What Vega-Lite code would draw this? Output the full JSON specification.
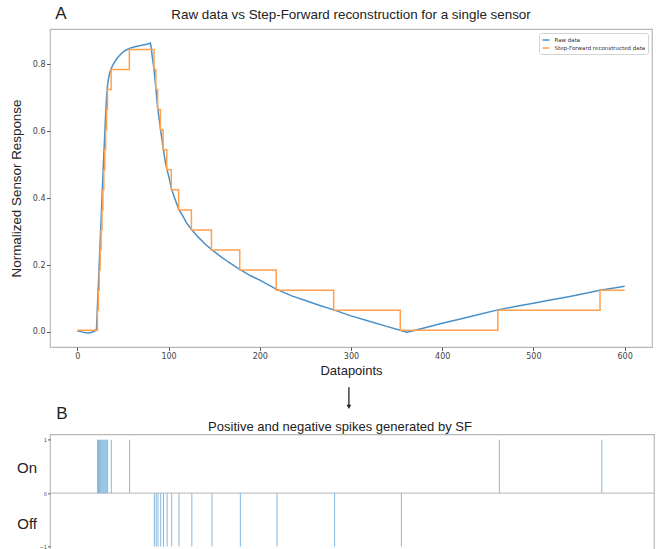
{
  "$schema": "https://vega.github.io/schema/vega-lite/v6.json",
  "background": "white",
  "padding": {"left": 8, "top": 4, "right": 5, "bottom": 0},
  "bounds": "flush",
  "spacing": 87.4,
  "config": {
    "view": {"stroke": "#b8b8b8", "strokeWidth": 1.2},
    "font": "Liberation Sans",
    "title": {"font": "Liberation Sans", "fontWeight": "normal", "color": "#222222"},
    "axis": {"grid": false, "domain": false, "tickColor": "#555555", "labelColor": "#444444", "labelFont": "DejaVu Sans", "titleFont": "Liberation Sans", "titleFontWeight": "normal", "titleColor": "#222222"},
    "legend": {"orient": "top-right", "offset": 4, "padding": 2.5, "strokeColor": "#d4d4d4", "fillColor": "white", "cornerRadius": 2, "symbolType": "stroke", "symbolStrokeWidth": 1.5, "symbolSize": 49, "labelFont": "DejaVu Sans", "labelFontSize": 5.5, "labelColor": "#333333", "rowPadding": 0, "labelOffset": 4}
  },
  "resolve": {"scale": {"x": "independent", "y": "independent", "color": "independent"}, "legend": {"color": "independent"}},
  "datasets": {
    "raw": [
      {"t": 0, "v": 0.003}, {"t": 4, "v": 0.001}, {"t": 8, "v": -0.002}, {"t": 12, "v": -0.003}, {"t": 16, "v": -0.001}, {"t": 20, "v": 0.004},
      {"t": 21, "v": 0.01}, {"t": 22, "v": 0.075}, {"t": 23, "v": 0.14}, {"t": 24, "v": 0.205}, {"t": 25, "v": 0.27}, {"t": 26, "v": 0.335},
      {"t": 27, "v": 0.4}, {"t": 28, "v": 0.465}, {"t": 29, "v": 0.53}, {"t": 30, "v": 0.59}, {"t": 31, "v": 0.65}, {"t": 32, "v": 0.7},
      {"t": 33, "v": 0.735}, {"t": 34, "v": 0.755}, {"t": 35, "v": 0.77}, {"t": 37, "v": 0.787}, {"t": 40, "v": 0.804}, {"t": 44, "v": 0.82},
      {"t": 48, "v": 0.832}, {"t": 52, "v": 0.841}, {"t": 57, "v": 0.848}, {"t": 62, "v": 0.852}, {"t": 67, "v": 0.855}, {"t": 72, "v": 0.858},
      {"t": 77, "v": 0.861}, {"t": 80, "v": 0.864}, {"t": 81, "v": 0.85}, {"t": 82, "v": 0.825}, {"t": 84, "v": 0.787}, {"t": 86, "v": 0.73},
      {"t": 88, "v": 0.672}, {"t": 90, "v": 0.63}, {"t": 91, "v": 0.61}, {"t": 92, "v": 0.59}, {"t": 94, "v": 0.552}, {"t": 96, "v": 0.515},
      {"t": 98, "v": 0.488}, {"t": 100, "v": 0.468}, {"t": 103, "v": 0.43}, {"t": 106, "v": 0.405}, {"t": 111, "v": 0.368}, {"t": 116, "v": 0.345},
      {"t": 120, "v": 0.325}, {"t": 125, "v": 0.307}, {"t": 132, "v": 0.285}, {"t": 140, "v": 0.263}, {"t": 147, "v": 0.247}, {"t": 155, "v": 0.23},
      {"t": 165, "v": 0.21}, {"t": 178, "v": 0.187}, {"t": 190, "v": 0.168}, {"t": 200, "v": 0.155}, {"t": 210, "v": 0.14}, {"t": 218, "v": 0.128},
      {"t": 235, "v": 0.108}, {"t": 250, "v": 0.094}, {"t": 265, "v": 0.08}, {"t": 281, "v": 0.066}, {"t": 300, "v": 0.048}, {"t": 320, "v": 0.032},
      {"t": 340, "v": 0.016}, {"t": 354, "v": 0.005}, {"t": 361, "v": -0.001}, {"t": 366, "v": 0.002}, {"t": 380, "v": 0.012}, {"t": 400, "v": 0.026},
      {"t": 420, "v": 0.039}, {"t": 440, "v": 0.052}, {"t": 461, "v": 0.066}, {"t": 480, "v": 0.076}, {"t": 500, "v": 0.086}, {"t": 520, "v": 0.096},
      {"t": 540, "v": 0.106}, {"t": 560, "v": 0.117}, {"t": 573, "v": 0.125}, {"t": 590, "v": 0.132}, {"t": 600, "v": 0.137}
    ],
    "sf": [
      {"t": 0, "v": 0.005}, {"t": 22, "v": 0.065}, {"t": 23, "v": 0.125}, {"t": 24, "v": 0.185}, {"t": 25, "v": 0.245}, {"t": 26, "v": 0.305},
      {"t": 27, "v": 0.365}, {"t": 28, "v": 0.425}, {"t": 29, "v": 0.485}, {"t": 30, "v": 0.545}, {"t": 31, "v": 0.605}, {"t": 32, "v": 0.665},
      {"t": 33, "v": 0.725}, {"t": 37, "v": 0.785}, {"t": 57, "v": 0.845}, {"t": 84, "v": 0.785}, {"t": 86, "v": 0.725}, {"t": 88, "v": 0.665},
      {"t": 91, "v": 0.605}, {"t": 94, "v": 0.545}, {"t": 98, "v": 0.485}, {"t": 103, "v": 0.425}, {"t": 111, "v": 0.365}, {"t": 125, "v": 0.305},
      {"t": 147, "v": 0.245}, {"t": 178, "v": 0.185}, {"t": 218, "v": 0.125}, {"t": 281, "v": 0.065}, {"t": 354, "v": 0.005}, {"t": 461, "v": 0.065},
      {"t": 573, "v": 0.125}, {"t": 600, "v": 0.125}
    ],
    "spikes": [
      {"t": 22, "s": 1}, {"t": 23, "s": 1}, {"t": 24, "s": 1}, {"t": 25, "s": 1}, {"t": 26, "s": 1}, {"t": 27, "s": 1},
      {"t": 28, "s": 1}, {"t": 29, "s": 1}, {"t": 30, "s": 1}, {"t": 31, "s": 1}, {"t": 32, "s": 1}, {"t": 33, "s": 1},
      {"t": 37, "s": 1}, {"t": 57, "s": 1}, {"t": 84, "s": -1}, {"t": 86, "s": -1}, {"t": 88, "s": -1}, {"t": 91, "s": -1},
      {"t": 94, "s": -1}, {"t": 98, "s": -1}, {"t": 103, "s": -1}, {"t": 111, "s": -1}, {"t": 125, "s": -1}, {"t": 147, "s": -1},
      {"t": 178, "s": -1}, {"t": 218, "s": -1}, {"t": 281, "s": -1}, {"t": 354, "s": -1}, {"t": 461, "s": 1}, {"t": 573, "s": 1}
    ]
  },
  "vconcat": [
    {
      "width": 602,
      "height": 318,
      "title": {"text": "Raw data vs Step-Forward reconstruction for a single sensor", "fontSize": 13.4, "offset": -16.5, "frame": "group"},
      "layer": [
        {
          "data": {"name": "raw"},
          "mark": {"type": "line", "strokeWidth": 1.5},
          "encoding": {
            "x": {"field": "t", "type": "quantitative", "scale": {"domain": [-30, 630], "nice": false, "zero": false},
                  "axis": {"values": [0, 100, 200, 300, 400, 500, 600], "title": "Datapoints", "titleFontSize": 13, "titlePadding": 4, "labelFontSize": 8, "tickSize": 3.5, "labelPadding": 1.5}},
            "y": {"field": "v", "type": "quantitative", "scale": {"domain": [-0.045, 0.906], "nice": false, "zero": false},
                  "axis": {"values": [0, 0.2, 0.4, 0.6, 0.8], "format": ".1f", "title": "Normalized Sensor Response", "titleFontSize": 13.4, "titlePadding": 9, "labelFontSize": 8, "tickSize": 3.5, "labelPadding": 1.5}},
            "color": {"datum": "Raw data", "type": "nominal",
                      "scale": {"domain": ["Raw data", "Step-Forward reconstructed data"], "range": ["#4a90c8", "#ffa04d"]},
                      "legend": {"title": null, "orient": "top-right"}}
          }
        },
        {
          "data": {"name": "sf"},
          "mark": {"type": "line", "interpolate": "step-after", "strokeWidth": 1.5},
          "encoding": {
            "x": {"field": "t", "type": "quantitative"},
            "y": {"field": "v", "type": "quantitative"},
            "color": {"datum": "Step-Forward reconstructed data", "type": "nominal"}
          }
        },
        {
          "data": {"values": [{"label": "A"}]},
          "mark": {"type": "text", "font": "Liberation Sans", "fontSize": 17, "color": "#222222", "align": "center", "baseline": "middle"},
          "encoding": {
            "x": {"datum": -18, "type": "quantitative"},
            "y": {"datum": 0.952, "type": "quantitative"},
            "text": {"field": "label"}
          }
        },
        {
          "data": {"values": [{"label": "arrow"}]},
          "mark": {"type": "rule", "color": "#222222", "strokeWidth": 1.3},
          "encoding": {
            "x": {"datum": 297.7, "type": "quantitative"},
            "y": {"datum": -0.165, "type": "quantitative"},
            "y2": {"datum": -0.222}
          }
        },
        {
          "data": {"values": [{"label": "arrowhead"}]},
          "mark": {"type": "point", "shape": "triangle-down", "filled": true, "color": "#222222", "size": 22, "opacity": 1},
          "encoding": {
            "x": {"datum": 297.7, "type": "quantitative"},
            "y": {"datum": -0.224, "type": "quantitative"}
          }
        }
      ]
    },
    {
      "width": 604,
      "height": 117.5,
      "title": {"text": "Positive and negative spikes generated by SF", "fontSize": 13, "offset": -29, "dx": -12, "frame": "group"},
      "layer": [
        {
          "data": {"values": [{"label": "zero"}]},
          "mark": {"type": "rule", "color": "#c4c4c4", "strokeWidth": 1.2},
          "encoding": {
            "y": {"datum": 0, "type": "quantitative", "scale": {"domain": [-1.1, 1.1], "nice": false, "zero": false},
                  "axis": {"values": [-1, 0, 1], "title": null, "labelFontSize": 5, "tickSize": 2.5, "labelPadding": 1}}
          }
        },
        {
          "data": {"name": "spikes"},
          "mark": {"type": "rule", "color": "#84b8de", "strokeWidth": 1},
          "encoding": {
            "x": {"field": "t", "type": "quantitative", "scale": {"domain": [-30, 630], "nice": false, "zero": false}, "axis": null},
            "y": {"field": "s", "type": "quantitative"},
            "y2": {"datum": 0}
          }
        },
        {
          "data": {"values": [{"label": "B"}]},
          "mark": {"type": "text", "font": "Liberation Sans", "fontSize": 17, "color": "#222222", "align": "center", "baseline": "middle"},
          "encoding": {
            "x": {"datum": -17, "type": "quantitative"},
            "y": {"datum": 1.49, "type": "quantitative"},
            "text": {"field": "label"}
          }
        },
        {
          "data": {"values": [{"label": "On"}]},
          "mark": {"type": "text", "font": "Liberation Sans", "fontSize": 15, "color": "#222222", "align": "center", "baseline": "middle"},
          "encoding": {
            "x": {"datum": -55, "type": "quantitative"},
            "y": {"datum": 0.48, "type": "quantitative"},
            "text": {"field": "label"}
          }
        },
        {
          "data": {"values": [{"label": "Off"}]},
          "mark": {"type": "text", "font": "Liberation Sans", "fontSize": 15, "color": "#222222", "align": "center", "baseline": "middle"},
          "encoding": {
            "x": {"datum": -55, "type": "quantitative"},
            "y": {"datum": -0.57, "type": "quantitative"},
            "text": {"field": "label"}
          }
        }
      ]
    }
  ]
}
